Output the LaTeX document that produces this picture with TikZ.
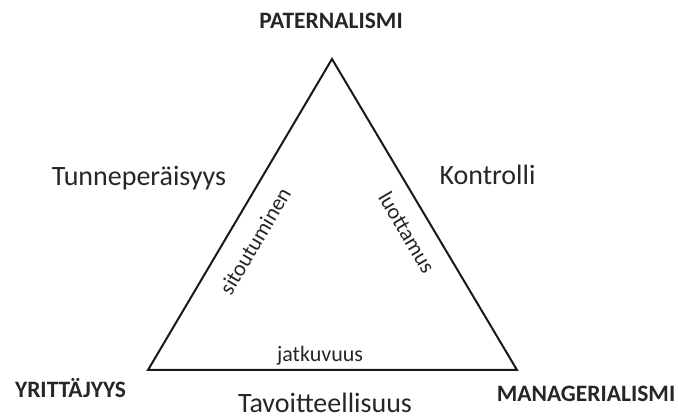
\documentclass[tikz,border=0pt]{standalone}
\usepackage{fontspec}
\setmainfont{Carlito}
\begin{document}
\begin{tikzpicture}[x=1pt,y=-1pt,
  corner/.style={font=\fontsize{23.5}{26}\selectfont\bfseries, text=black!85, inner sep=0pt, anchor=base},
  quality/.style={font=\fontsize{28}{32}\selectfont, text=black!85, inner sep=0pt, anchor=base},
  edgelabel/.style={font=\fontsize{22}{25}\selectfont, text=black!85, inner sep=0pt},
  side/.style={draw=black!90, line width=2pt, line join=miter}]
  \useasboundingbox (0,0) rectangle (678,419);

  % triangle corners
  \coordinate (P) at (332,59);
  \coordinate (Y) at (148,370);
  \coordinate (M) at (517,370);
  \draw[side] (P) -- (Y) -- (M) -- cycle;

  % corner labels
  \node[corner] (pat) at (331,29) {PATERNALISMI};
  \node[corner] (yri) at (70.5,398) {YRITTÄJYYS};
  \node[corner] (man) at (586,402) {MANAGERIALISMI};

  % qualities between the corners
  \node[quality] (tun) at (139,186) {Tunneperäisyys};
  \node[quality] (kon) at (487.5,185) {Kontrolli};
  \node[quality] (tav) at (325,413) {Tavoitteellisuus};

  % labels along the sides
  \node[edgelabel, rotate=59.4] (sit) at (255,241) {sitoutuminen};
  \node[edgelabel, rotate=-59.4] (luo) at (407,232) {luottamus};
  \node[edgelabel, anchor=base] (jat) at (320,362) {jatkuvuus};
\end{tikzpicture}
\end{document}
